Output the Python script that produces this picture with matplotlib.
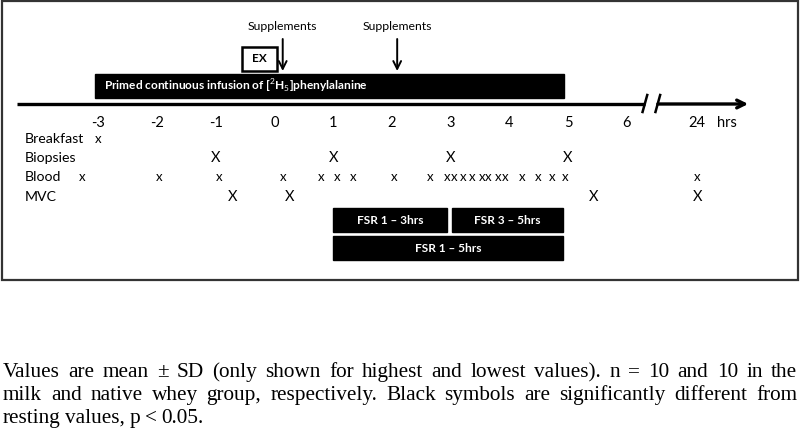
import matplotlib
matplotlib.use("Agg")
import matplotlib.pyplot as plt
from matplotlib.patches import Rectangle

plt.rcParams['font.family'] = ['Lato', 'DejaVu Sans']
plt.rcParams['mathtext.fontset'] = 'custom'
plt.rcParams['mathtext.rm'] = 'Lato'

W, H = 800, 436

# time axis (hours); 24 h sits after the axis break
tick_hours = [-3, -2, -1, 0, 1, 2, 3, 4, 5, 6, 24]
break_pos = 7.2  # where 24 h is drawn

breakfast = [-3]
biopsies = [-1, 1, 3, 5]
blood = [-3.28, -1.97, -0.95, 0.14, 0.79, 1.06, 1.34, 2.04, 2.65, 2.94, 3.06,
         3.21, 3.36, 3.53, 3.64, 3.81, 3.93, 4.22, 4.49, 4.73, 4.95, 24]
mvc = [-0.72, 0.26, 5.44, 24]
supplements = [0.14, 2.09]
exercise = (-0.55, 0.04)
infusion = (-3.05, 4.93)
fsr_bars = [("FSR 1 \u2013 3hrs", 1.0, 2.94, 0),
            ("FSR 3 \u2013 5hrs", 3.02, 4.92, 0),
            ("FSR 1 \u2013 5hrs", 1.0, 4.92, 1)]

caption = ["Values are mean \u00b1 SD (only shown for highest and lowest values). n = 10 and 10 in the",
           "milk and native whey group, respectively. Black symbols are significantly different from",
           "resting values, p < 0.05."]


def pos(h):
    return h if h <= 6 else break_pos


X0, S = 274.5, 58.7  # pixel of hour 0, pixels per hour

fig = plt.figure(figsize=(8, 4.36), dpi=100)
ax = fig.add_axes([0, 0, 1, 1])
ax.set_xlim(-X0 / S, (W - X0) / S)
ax.set_ylim(H, 0)
ax.axis('off')

# frame round the diagram
fig.add_artist(Rectangle((1.5 / W, 1 - 280 / H), 796 / W, 278.5 / H,
                         transform=fig.transFigure, fill=False,
                         edgecolor='#333333', lw=1.6))

# main time line with break
y_axis = 104
ax.plot([-4.39, 6.31], [y_axis, y_axis], color='black', lw=2.4, solid_capstyle='butt')
ax.annotate('', xy=(8.07, y_axis), xytext=(6.53, y_axis),
            arrowprops=dict(arrowstyle='->', lw=2.4, color='black', mutation_scale=14,
                            shrinkA=0, shrinkB=0))
for xb in (6.31, 6.53):
    ax.plot([xb - 0.04, xb + 0.04], [112, 95], color='black', lw=1.8)

for h in tick_hours:
    ax.text(pos(h), 123, str(h), ha='center', va='center', fontsize=10.5)
ax.text(727 / S - X0 / S, 123, 'hrs', ha='center', va='center', fontsize=10.5)

# infusion bar
ax.add_patch(Rectangle((infusion[0], 74), infusion[1] - infusion[0], 24, color='black'))
ax.text(infusion[0] + 0.15, 86,
        r"Primed continuous infusion of [$^{2}$H$_{5}$]phenylalanine",
        color='white', ha='left', va='center', fontsize=8.6, fontweight='bold')

# exercise box
ax.add_patch(Rectangle((exercise[0], 47), exercise[1] - exercise[0], 24,
                       facecolor='white', edgecolor='black', lw=1.8))
ax.text(sum(exercise) / 2, 59, 'EX', ha='center', va='center', fontsize=8.5,
        fontweight='bold')

# supplement arrows
for s in supplements:
    ax.annotate('', xy=(s, 71), xytext=(s, 39),
                arrowprops=dict(arrowstyle='->', lw=1.4, color='black', mutation_scale=14,
                                shrinkA=0, shrinkB=0))
    ax.text(s, 27, 'Supplements', ha='center', va='center', fontsize=8.8)

# event rows
rows = [("Breakfast", breakfast, 'x', 139),
        ("Biopsies", biopsies, 'X', 158),
        ("Blood", blood, 'x', 177),
        ("MVC", mvc, 'X', 197)]
for name, times, mark, y in rows:
    ax.text(-X0 / S + 25 / S, y, name, ha='left', va='center', fontsize=10.2)
    for t in times:
        ax.text(pos(t), y, mark, ha='center', va='center', fontsize=10.5 if mark == 'X' else 9.5)

# FSR bars
for label, a, b, level in fsr_bars:
    y0 = 208 + level * 28
    ax.add_patch(Rectangle((a, y0), b - a, 24, color='black'))
    ax.text((a + b) / 2, y0 + 12, label, color='white', ha='center', va='center',
            fontsize=8.6, fontweight='bold')

# justified caption
renderer = fig.canvas.get_renderer()
left, right = 3, 797
for i, line in enumerate(caption):
    y = 377 + i * 23
    words = line.split(' ')
    texts = [fig.text(0, 1 - y / H, w, family='Liberation Serif', fontsize=15.3,
                      va='baseline', ha='left') for w in words]
    widths = [t.get_window_extent(renderer).width for t in texts]
    if i < len(caption) - 1:
        gap = (right - left - sum(widths)) / (len(words) - 1)
    else:
        gap = 4.5
    x = left
    for t, w in zip(texts, widths):
        t.set_x(x / W)
        x += w + gap

fig.savefig('out.png', dpi=100)
